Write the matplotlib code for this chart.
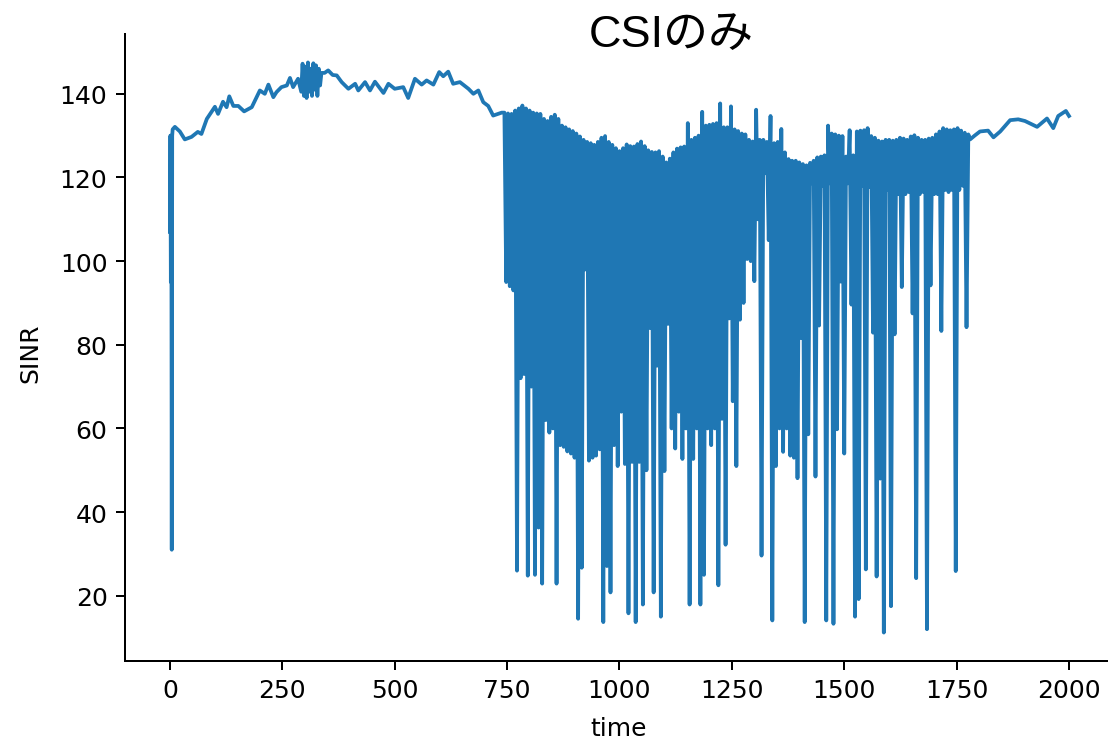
import numpy as np
import matplotlib
matplotlib.use("Agg")
import matplotlib.pyplot as plt

# start: drop at t=0, then slow rise to ~145
t_start = [0, 1, 2, 3, 4, 5, 6, 11, 22, 33, 48, 62, 70, 82, 100, 107, 118,
           126, 132, 141, 152, 165, 182, 200, 211, 219, 230, 237, 248, 260,
           267, 274, 285]
sinr_start = [107, 130, 95, 130, 31, 130, 131.5, 132.1, 131, 129.1, 129.7,
              130.9, 130.4, 134, 136.9, 135.2, 138.1, 136.8, 139.4, 137.1,
              137.1, 135.8, 136.8, 140.8, 140, 142.2, 139.2, 140.4, 141.6,
              142, 143.8, 141.6, 143.6]

# noisy bit around t=300
t_peak = [292, 295, 298, 301, 304, 307, 310, 313, 316, 319, 322, 325, 328,
          331, 334, 337]
sinr_peak = [140.5, 147.2, 139.5, 146.5, 139, 147.5, 140.5, 146, 139.5,
             147.3, 141, 146.8, 139.5, 146, 142, 145]

t_mid = [344, 352, 362, 371, 382, 397, 412, 419, 434, 445, 456, 475, 486,
         500, 519, 530, 545, 560, 571, 586, 599, 608, 619, 630, 645, 664,
         675, 686, 697, 708, 719, 730, 738]
sinr_mid = [145, 145.6, 144.5, 144.4, 142.8, 141.2, 142.4, 140.8, 142.8,
            140.8, 142.9, 140.2, 142.4, 141.2, 141.6, 139, 143.6, 142.2,
            143.2, 142.2, 145.2, 144.2, 145.3, 142.4, 142.8, 141.2, 140,
            140.8, 138, 137.1, 134.8, 135.2, 135.5]

# dense part, t = 744 .. 1780 every 4 steps (10 values = 40 steps per row)
sinr_dense = [
    135.5, 95, 135.3, 94, 135.2, 93, 136, 26, 136.5, 72,
    137.2, 73, 136.5, 24.8, 136, 70, 135.5, 25, 135.3, 36.3,
    135.2, 22.9, 134, 62, 133.5, 59, 134.5, 60, 135, 22.9,
    134, 56, 132.4, 55.6, 132, 54.5, 131.5, 54, 131.1, 53,
    130.5, 14.5, 129.8, 26.7, 129, 98, 128.5, 52.3, 128.2, 53,
    127.8, 53.5, 128.5, 55, 129.5, 13.7, 129.9, 27.1, 128.5, 20.8,
    127.8, 56, 127, 51, 126.3, 64, 127, 51.5, 127.9, 15.8,
    127.5, 52, 127.4, 13.7, 128, 52, 128.6, 17.9, 127.5, 50,
    126.5, 84, 126.1, 20.8, 126, 75, 126.3, 15, 125, 49.8,
    123.6, 85, 124.5, 60, 126, 55.2, 126.9, 64, 127.2, 52.7,
    127.4, 60, 133, 17.9, 129, 52.7, 129.5, 60, 130, 17.9,
    135.7, 25, 132.4, 60, 132.6, 56, 132.8, 60, 133, 22.5,
    137.7, 62.3, 132, 32.2, 132, 86.3, 137, 66.5, 131.5, 51,
    131.1, 86, 130.5, 90, 130.3, 100.5, 129, 100, 128.6, 95.2,
    136.2, 110, 129, 29.6, 129, 121, 128.5, 105, 134.7, 14.1,
    128.2, 51, 128.5, 60, 131.6, 54.4, 126, 60, 124.4, 53.5,
    124, 53, 124, 48.1, 123.6, 81.6, 123.2, 13.7, 122.9, 58.6,
    123.5, 118.6, 124, 48.5, 124.8, 84.6, 125, 118, 125.3, 14.1,
    132.4, 118.6, 130.5, 13.3, 130.3, 59.8, 130, 95.1, 129.9, 54,
    125, 118.6, 131.3, 89.6, 125.3, 15, 131, 19.2, 131.2, 118,
    131.3, 26.3, 131.8, 117.7, 129.9, 82.9, 129.5, 24.6, 128.8, 48,
    128.6, 11.2, 129, 117, 129, 17.5, 128.8, 82.5, 129, 116,
    129.5, 93.8, 129.3, 116, 129, 116.5, 129.8, 87.5, 130.1, 24.2,
    129.5, 116, 129, 116.5, 129, 12, 129.3, 94.2, 129.5, 116,
    130.3, 116, 131, 83.3, 131.8, 117, 131.5, 116.5, 131.3, 117,
    131.5, 25.9, 131.8, 117, 131.2, 118, 130.7, 84.2, 130.3, 129.1,
]
t_dense = list(range(744, 1784, 4))

t_tail = [1790, 1802, 1820, 1832, 1847, 1869, 1887, 1902, 1929, 1951, 1965,
          1976, 1993, 2000]
sinr_tail = [130, 131, 131.2, 129.6, 131, 133.7, 133.9, 133.5, 132.1, 134.1,
             131.8, 134.7, 135.9, 134.7]

time = t_start + t_peak + t_mid + t_dense + t_tail
sinr = sinr_start + sinr_peak + sinr_mid + sinr_dense + sinr_tail

fig = plt.figure(figsize=(1109 / 180, 741 / 180), dpi=180)
ax = fig.add_axes([125 / 1109, 1 - 662 / 741, 982 / 1109, 627 / 741])
ax.plot(time, sinr, color='#1f77b4', lw=1.5)

ax.set_xlim(-100, 2084.5)
ax.set_ylim(4.4, 154.3)
ax.set_xticks([0, 250, 500, 750, 1000, 1250, 1500, 1750, 2000])
ax.set_yticks([20, 40, 60, 80, 100, 120, 140])
ax.spines['top'].set_visible(False)
ax.spines['right'].set_visible(False)

ax.set_xlabel('time', fontsize=10)
ax.set_ylabel('SINR', fontsize=10)
ax.xaxis.set_label_coords(0.503, -0.087)
ax.yaxis.set_label_coords(-0.0845, 0.493)

fig.text(671 / 1109, 1 - 36 / 741, 'CSIのみ', fontsize=18, ha='center', va='center',
         family=['Liberation Sans', 'Noto Sans CJK JP'])

fig.savefig('out.png', dpi=180)
